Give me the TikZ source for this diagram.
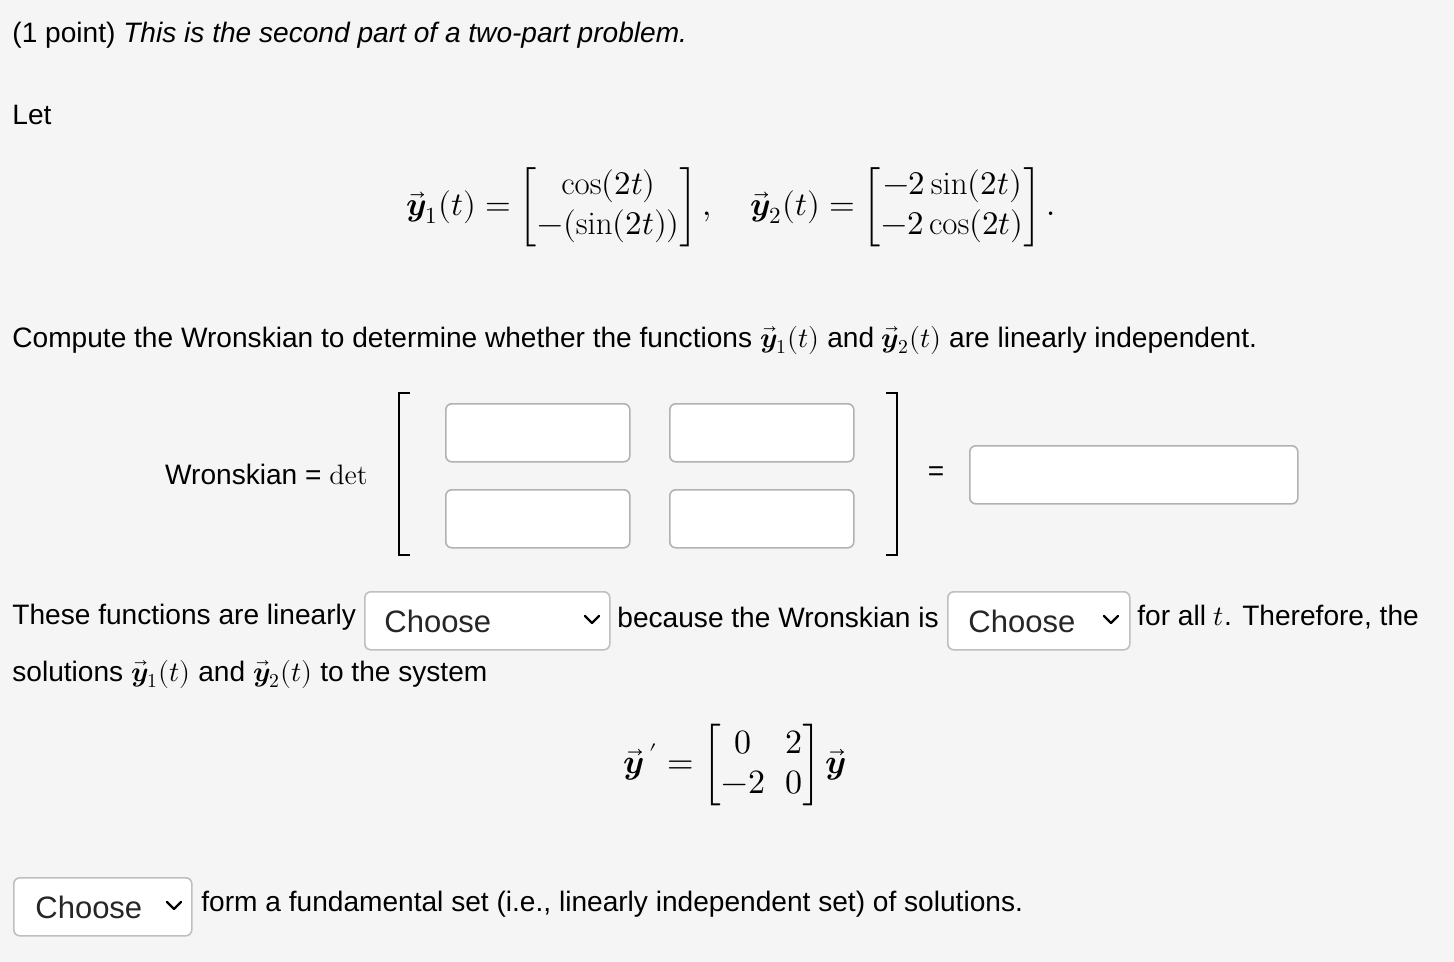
\documentclass[tikz,border=0pt]{standalone}
\usepackage{amsmath}
\usepackage{fontspec}
\setmainfont{Liberation Sans}
\usepackage{unicode-math}
\setmathfont{Latin Modern Math}
\setmathrm{Latin Modern Roman}
\setoperatorfont\mathrm
\usetikzlibrary{positioning}
\newcommand{\yvec}[1]{\vec{\symbfit{y}}_{#1}}
\begin{document}
\begin{tikzpicture}[x=0.5pt,y=-0.5pt,
  txt/.style={anchor=west, inner sep=0pt, font=\fontsize{14.05}{17}\selectfont},
  field/.style={draw=black!30, fill=white, rounded corners=3pt, line width=0.8pt, anchor=north west, inner sep=0pt},
  select/.style={draw=black!25, fill=white, rounded corners=3pt, line width=0.8pt, anchor=north west, inner sep=0pt},
  choice/.style={anchor=west, inner sep=0pt, font=\fontsize{15.5}{18}\selectfont, text=black!85},
  chev/.style={line width=1.2pt, line cap=round, line join=round}]
\fill[black!4] (0,0) rectangle (1454,962);
\useasboundingbox (0,0) rectangle (1454,962);
% heading
\node[txt] (head) at (12,35) {(1 point) \textit{This is the second part of a two-part problem.}};
\node[txt] (let) at (12,115) {Let};
\node[inner sep=0pt, font=\fontsize{16.5}{20}\selectfont] (ysys) at (731,207)
  {$\yvec{1}(t)=\begin{bmatrix}\cos(2t)\\-(\sin(2t))\end{bmatrix},\quad
    \yvec{2}(t)=\begin{bmatrix}-2\sin(2t)\\-2\cos(2t)\end{bmatrix}.$};
\node[txt] (task) at (12,340) {Compute the Wronskian to determine whether the functions $\yvec{1}(t)$ and $\yvec{2}(t)$ are linearly independent.};
% Wronskian matrix
\node[txt, anchor=east] (wlabel) at (368,474) {Wronskian = $\mathrm{det}$};
\draw[line width=1.2pt] (410,393) -- (399,393) -- (399,555) -- (410,555);
\draw[line width=1.2pt] (886,393) -- (897,393) -- (897,555) -- (886,555);
\node[field, minimum width=92pt, minimum height=29pt] (w11) at (445,403) {};
\node[field, minimum width=92pt, minimum height=29pt] (w12) at (669,403) {};
\node[field, minimum width=92pt, minimum height=29pt] (w21) at (445,489) {};
\node[field, minimum width=92pt, minimum height=29pt] (w22) at (669,489) {};
\node[txt, anchor=center] (eq) at (936,474) {=};
\node[field, minimum width=164pt, minimum height=29pt] (wval) at (969,445) {};
% linear independence line
\node[txt] (lin) at (12,617) {These functions are linearly};
\node[select, minimum width=122.5pt, minimum height=29pt] (sel1) at (364,591) {};
\node[choice] at (384,621) {Choose};
\draw[chev] (585,616) -- (592,623) -- (599,616);
\node[txt] (because) at (617,617) {because the Wronskian is};
\node[select, minimum width=91pt, minimum height=29pt] (sel2) at (947,591) {};
\node[choice] at (968,621) {Choose};
\draw[chev] (1104,616) -- (1111,623) -- (1118,616);
\node[txt] (forall) at (1137,617) {for all $t$. Therefore, the};
\node[txt] (sol) at (12,674) {solutions $\yvec{1}(t)$ and $\yvec{2}(t)$ to the system};
\node[inner sep=0pt, font=\fontsize{17}{20}\selectfont] (ode) at (735,765)
  {$\vec{\symbfit{y}}\,'=\begin{bmatrix}0&2\\-2&0\end{bmatrix}\vec{\symbfit{y}}$};
% final line
\node[select, minimum width=89pt, minimum height=29pt] (sel3) at (13,877) {};
\node[choice] at (35,907) {Choose};
\draw[chev] (167,902) -- (174,909) -- (181,902);
\node[txt] (fund) at (201,904) {form a fundamental set (i.e., linearly independent set) of solutions.};
\end{tikzpicture}
\end{document}
